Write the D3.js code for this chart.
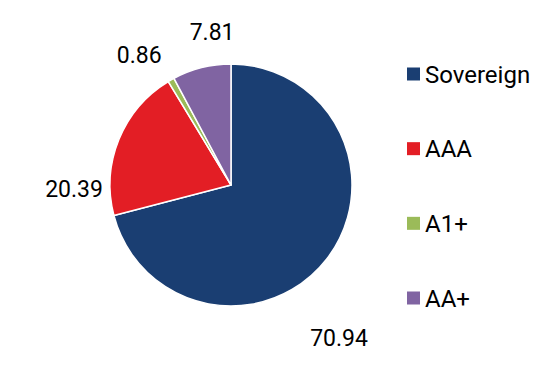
<!DOCTYPE html>
<html>
<head>
<meta charset="utf-8">
<script src="https://cdn.jsdelivr.net/npm/d3@7"></script>
<style>
  html, body { margin: 0; padding: 0; background: #fff; }
  svg { display: block; font-family: Roboto, "Noto Sans", sans-serif; }
</style>
</head>
<body>
<script>
const categories = ["Sovereign", "AAA", "A1+", "AA+"];
const values = [70.94, 20.39, 0.86, 7.81];
const colors = ["#1a3e72", "#e31e25", "#9bbb59", "#8064a2"];

// label placement around the pie, polar: radius and shift (deg) from slice middle
const labelRadius = [187, 157, 159, 154];
const labelShift = [17, -23.4, -5.6, 7];

const width = 557, height = 379;
const cx = 231, cy = 185, radius = 121;

const svg = d3.select("body").append("svg")
    .attr("width", width)
    .attr("height", height);

const pie = d3.pie().sort(null).value(d => d);
const arcs = pie(values);
const arc = d3.arc().innerRadius(0).outerRadius(radius);

const g = svg.append("g").attr("transform", `translate(${cx},${cy})`);

g.selectAll("path")
    .data(arcs)
    .join("path")
    .attr("d", arc)
    .attr("fill", (d, i) => colors[i])
    .attr("stroke", "#fff")
    .attr("stroke-width", 1.5)
    .attr("stroke-linejoin", "round");

g.selectAll("text")
    .data(arcs)
    .join("text")
    .attr("transform", (d, i) => {
        const a = (d.startAngle + d.endAngle) / 2 + labelShift[i] * Math.PI / 180;
        const r = labelRadius[i];
        return `translate(${r * Math.sin(a)},${-r * Math.cos(a)})`;
    })
    .attr("text-anchor", "middle")
    .attr("dy", "0.36em")
    .attr("font-size", 23)
    .attr("fill", "#000")
    .text(d => d.value.toFixed(2));

// legend
const ly = d3.scalePoint().domain(categories).range([74, 298]);
const legend = svg.append("g")
    .selectAll("g")
    .data(categories)
    .join("g")
    .attr("transform", d => `translate(407,${ly(d)})`);

legend.append("rect")
    .attr("x", 0)
    .attr("y", -6.5)
    .attr("width", 13)
    .attr("height", 13)
    .attr("fill", (d, i) => colors[i]);

legend.append("text")
    .attr("x", 18)
    .attr("dy", "0.36em")
    .attr("font-size", 24)
    .attr("fill", "#000")
    .text(d => d);
</script>
</body>
</html>
